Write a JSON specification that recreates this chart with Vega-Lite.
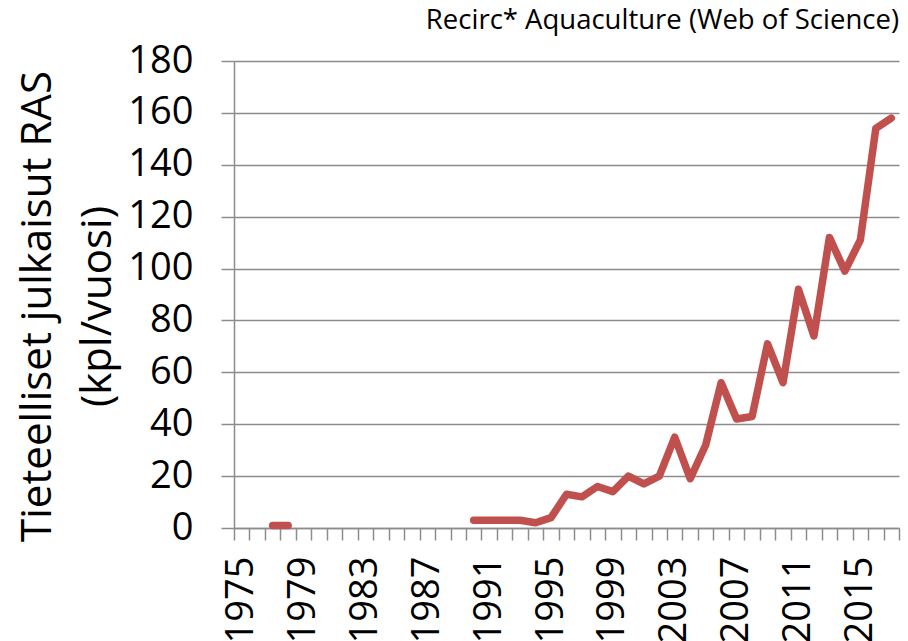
{
  "$schema": "https://vega.github.io/schema/vega-lite/v6.json",
  "width": 665,
  "height": 467,
  "autosize": "none",
  "padding": {"left": 234, "top": 61, "right": 9, "bottom": 113},
  "background": "white",
  "title": {
    "text": "Recirc* Aquaculture (Web of Science)",
    "anchor": "end",
    "frame": "group",
    "font": "Open Sans",
    "fontSize": 27.5,
    "fontWeight": "normal",
    "color": "black",
    "baseline": "alphabetic",
    "offset": 14,
    "dy": 28
  },
  "data": {
    "values": [
      {"year": 1977, "count": 1, "seg": "a"},
      {"year": 1978, "count": 1, "seg": "a"},
      {"year": 1990, "count": 3, "seg": "b"},
      {"year": 1991, "count": 3, "seg": "b"},
      {"year": 1992, "count": 3, "seg": "b"},
      {"year": 1993, "count": 3, "seg": "b"},
      {"year": 1994, "count": 2, "seg": "b"},
      {"year": 1995, "count": 4, "seg": "b"},
      {"year": 1996, "count": 13, "seg": "b"},
      {"year": 1997, "count": 12, "seg": "b"},
      {"year": 1998, "count": 16, "seg": "b"},
      {"year": 1999, "count": 14, "seg": "b"},
      {"year": 2000, "count": 20, "seg": "b"},
      {"year": 2001, "count": 17, "seg": "b"},
      {"year": 2002, "count": 20, "seg": "b"},
      {"year": 2003, "count": 35, "seg": "b"},
      {"year": 2004, "count": 19, "seg": "b"},
      {"year": 2005, "count": 32, "seg": "b"},
      {"year": 2006, "count": 56, "seg": "b"},
      {"year": 2007, "count": 42, "seg": "b"},
      {"year": 2008, "count": 43, "seg": "b"},
      {"year": 2009, "count": 71, "seg": "b"},
      {"year": 2010, "count": 56, "seg": "b"},
      {"year": 2011, "count": 92, "seg": "b"},
      {"year": 2012, "count": 74, "seg": "b"},
      {"year": 2013, "count": 112, "seg": "b"},
      {"year": 2014, "count": 99, "seg": "b"},
      {"year": 2015, "count": 111, "seg": "b"},
      {"year": 2016, "count": 154, "seg": "b"},
      {"year": 2017, "count": 158, "seg": "b"}
    ]
  },
  "mark": {
    "type": "line",
    "color": "#C0504D",
    "strokeWidth": 7.5,
    "strokeCap": "round",
    "strokeJoin": "round"
  },
  "encoding": {
    "x": {
      "field": "year",
      "type": "ordinal",
      "bandPosition": 0.5,
      "scale": {
        "type": "band",
        "paddingInner": 0,
        "paddingOuter": 0,
        "domain": [1975, 1976, 1977, 1978, 1979, 1980, 1981, 1982, 1983, 1984, 1985, 1986, 1987, 1988, 1989, 1990, 1991, 1992, 1993, 1994, 1995, 1996, 1997, 1998, 1999, 2000, 2001, 2002, 2003, 2004, 2005, 2006, 2007, 2008, 2009, 2010, 2011, 2012, 2013, 2014, 2015, 2016, 2017]
      },
      "axis": {
        "title": null,
        "labelAngle": -90,
        "labelAlign": "right",
        "labelBaseline": "middle",
        "labelExpr": "(datum.value - 1975) % 4 == 0 ? datum.label : ''",
        "labelFont": "Open Sans",
        "labelFontSize": 38,
        "labelColor": "black",
        "labelPadding": 16,
        "labelOverlap": false,
        "labelFlush": false,
        "tickBand": "extent",
        "tickSize": 12,
        "tickColor": "#8C8C8C",
        "tickWidth": 1.5,
        "domainColor": "#8C8C8C",
        "domainWidth": 1.5,
        "grid": false
      }
    },
    "y": {
      "field": "count",
      "type": "quantitative",
      "scale": {"domain": [0, 180], "nice": false},
      "axis": {
        "values": [0, 20, 40, 60, 80, 100, 120, 140, 160, 180],
        "title": ["Tieteelliset julkaisut RAS", "(kpl/vuosi)"],
        "titleFont": "Open Sans",
        "titleFontSize": 42,
        "titleFontWeight": "normal",
        "titleColor": "black",
        "titleAngle": -90,
        "titleAlign": "center",
        "titleBaseline": "alphabetic",
        "titleLineHeight": 60,
        "titleX": -184,
        "titleY": 245,
        "labelFont": "Open Sans",
        "labelFontSize": 38,
        "labelColor": "black",
        "labelPadding": 28,
        "labelFlush": false,
        "tickSize": 13,
        "tickColor": "#8C8C8C",
        "tickWidth": 1.5,
        "domainColor": "#8C8C8C",
        "domainWidth": 1.5,
        "grid": true,
        "gridColor": "#8C8C8C",
        "gridWidth": 1.5
      }
    },
    "detail": {"field": "seg", "type": "nominal"}
  },
  "config": {
    "view": {"stroke": null}
  }
}
